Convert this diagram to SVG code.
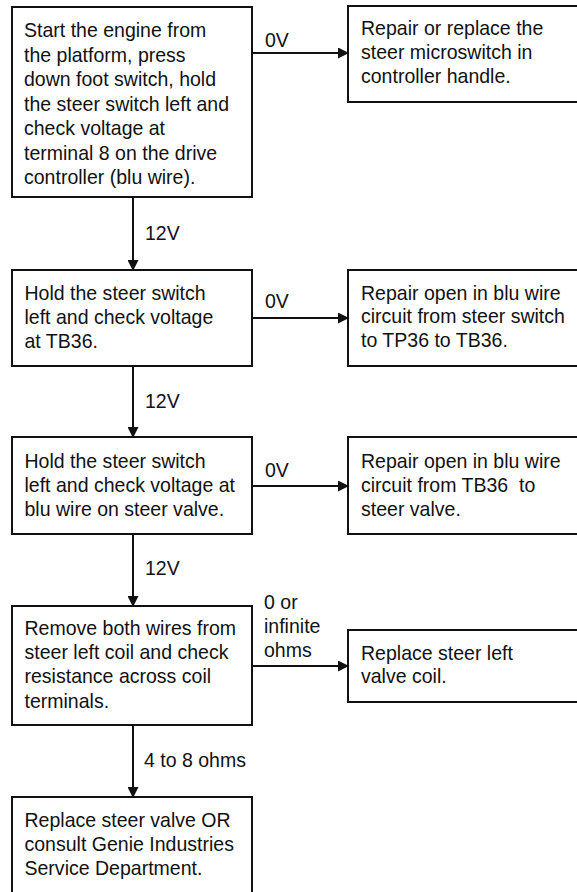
<svg xmlns="http://www.w3.org/2000/svg" width="577" height="892" viewBox="0 0 577 892">
<style>
  .box { fill: #ffffff; stroke: #111111; stroke-width: 2; }
  .t { font-family: "Liberation Sans", Arial, Helvetica, sans-serif; font-size: 21px; fill: #111111; white-space: pre; }
  .edge { stroke: #111111; stroke-width: 2; fill: none; marker-end: url(#arrow); }
</style>
<defs>
  <marker id="arrow" markerUnits="userSpaceOnUse" markerWidth="11" markerHeight="11" refX="10" refY="5.5" orient="auto">
    <path d="M0,0 L11,5.5 L0,11 Z" fill="#111111"/>
  </marker>
</defs>
<rect width="577" height="892" fill="#ffffff"/>

<g id="connectors">
  <line class="edge" x1="133" y1="197" x2="133" y2="270"/>
  <line class="edge" x1="133" y1="366" x2="133" y2="437"/>
  <line class="edge" x1="133" y1="534" x2="133" y2="606"/>
  <line class="edge" x1="133" y1="725" x2="133" y2="797"/>
  <line class="edge" x1="252" y1="53" x2="348" y2="53"/>
  <line class="edge" x1="252" y1="318" x2="348" y2="318"/>
  <line class="edge" x1="252" y1="486" x2="348" y2="486"/>
  <line class="edge" x1="252" y1="666" x2="348" y2="666"/>
  <g transform="translate(265,0) scale(0.93,1)">
    <text class="t" x="0" y="47">0V</text>
    <text class="t" x="0" y="308">0V</text>
    <text class="t" x="0" y="477">0V</text>
  </g>
  <g transform="translate(145,0) scale(0.93,1)">
    <text class="t" x="0" y="240">12V</text>
    <text class="t" x="0" y="408">12V</text>
    <text class="t" x="0" y="575">12V</text>
  </g>
  <g transform="translate(264,0) scale(0.93,1)">
    <text class="t" x="0" y="609">0 or</text>
    <text class="t" x="0" y="633">infinite</text>
    <text class="t" x="0" y="657">ohms</text>
  </g>
  <g transform="translate(144,0) scale(0.93,1)">
    <text class="t" x="0" y="767">4 to 8 ohms</text>
  </g>
</g>

<g id="n1">
  <rect class="box" x="12" y="7" width="240" height="190"/>
  <g transform="translate(24,0) scale(0.93,1)">
    <text class="t" x="0" y="37.5">Start the engine from</text>
    <text class="t" x="0" y="62">the platform, press</text>
    <text class="t" x="0" y="86.5">down foot switch, hold</text>
    <text class="t" x="0" y="111">the steer switch left and</text>
    <text class="t" x="0" y="135.5">check voltage at</text>
    <text class="t" x="0" y="160">terminal 8 on the drive</text>
    <text class="t" x="0" y="184.5">controller (blu wire).</text>
  </g>
</g>
<g id="n1r">
  <rect class="box" x="348" y="6" width="240" height="96"/>
  <g transform="translate(361,0) scale(0.93,1)">
    <text class="t" x="0" y="35">Repair or replace the</text>
    <text class="t" x="0" y="59">steer microswitch in</text>
    <text class="t" x="0" y="83">controller handle.</text>
  </g>
</g>

<g id="n2">
  <rect class="box" x="12" y="270" width="240" height="96"/>
  <g transform="translate(24.5,0) scale(0.93,1)">
    <text class="t" x="0" y="300">Hold the steer switch</text>
    <text class="t" x="0" y="324">left and check voltage</text>
    <text class="t" x="0" y="348">at TB36.</text>
  </g>
</g>
<g id="n2r">
  <rect class="box" x="348" y="270" width="240" height="96"/>
  <g transform="translate(361,0) scale(0.93,1)">
    <text class="t" x="0" y="300">Repair open in blu wire</text>
    <text class="t" x="0" y="323.5">circuit from steer switch</text>
    <text class="t" x="0" y="347">to TP36 to TB36.</text>
  </g>
</g>

<g id="n3">
  <rect class="box" x="12" y="437" width="240" height="97"/>
  <g transform="translate(24.5,0) scale(0.93,1)">
    <text class="t" x="0" y="468">Hold the steer switch</text>
    <text class="t" x="0" y="492">left and check voltage at</text>
    <text class="t" x="0" y="516">blu wire on steer valve.</text>
  </g>
</g>
<g id="n3r">
  <rect class="box" x="348" y="437" width="240" height="97"/>
  <g transform="translate(361,0) scale(0.93,1)">
    <text class="t" x="0" y="468">Repair open in blu wire</text>
    <text class="t" x="0" y="492">circuit from TB36  to</text>
    <text class="t" x="0" y="516">steer valve.</text>
  </g>
</g>

<g id="n4">
  <rect class="box" x="12" y="606" width="240" height="119"/>
  <g transform="translate(24.5,0) scale(0.93,1)">
    <text class="t" x="0" y="635">Remove both wires from</text>
    <text class="t" x="0" y="659">steer left coil and check</text>
    <text class="t" x="0" y="683.5">resistance across coil</text>
    <text class="t" x="0" y="708">terminals.</text>
  </g>
</g>
<g id="n4r">
  <rect class="box" x="348" y="630" width="240" height="72"/>
  <g transform="translate(361,0) scale(0.93,1)">
    <text class="t" x="0" y="660">Replace steer left</text>
    <text class="t" x="0" y="683.5">valve coil.</text>
  </g>
</g>

<g id="n5">
  <rect class="box" x="12" y="797" width="240" height="120"/>
  <g transform="translate(24.5,0) scale(0.93,1)">
    <text class="t" x="0" y="827">Replace steer valve OR</text>
    <text class="t" x="0" y="851">consult Genie Industries</text>
    <text class="t" x="0" y="875">Service Department.</text>
  </g>
</g>
</svg>
